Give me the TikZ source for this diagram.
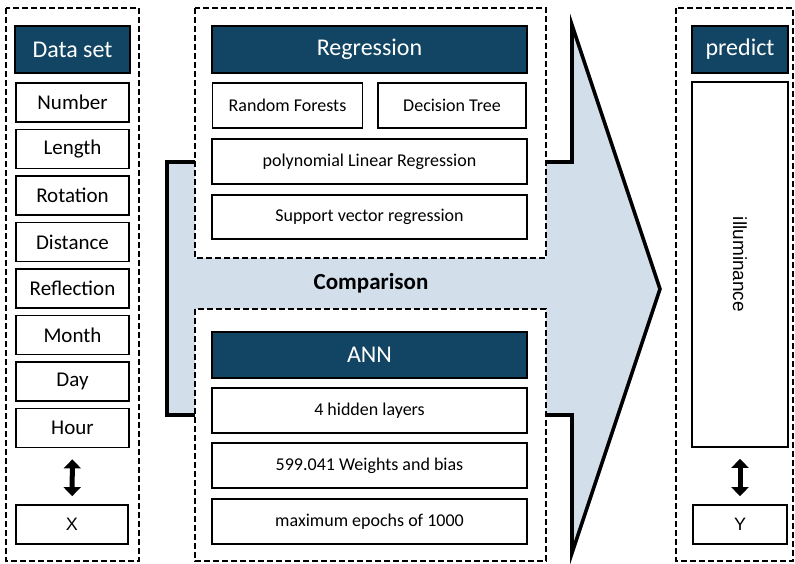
\documentclass[tikz,border=0pt]{standalone}
\usepackage{fontspec}
\setmainfont{Carlito}
\newfontfamily\arialfont{Liberation Sans}
\usetikzlibrary{arrows.meta}
\definecolor{hdrblue}{RGB}{17,69,99}
\definecolor{arrowblue}{RGB}{210,223,235}
\tikzset{
  frame/.style={draw, line width=1.5pt, dash pattern=on 6pt off 3pt, fill=white},
  hdr/.style={draw, line width=2pt, fill=hdrblue, text=white, inner sep=0pt, font=\fontsize{24}{28}\selectfont},
  cell/.style={draw, line width=1.7pt, fill=white, inner sep=0pt},
  dblarrow/.style={line width=5pt, {Triangle[length=9pt,width=17pt]}-{Triangle[length=9pt,width=17pt]}},
}

\begin{document}
\begin{tikzpicture}[x=1pt, y=-1pt]
			%%%%% START %%%%%
			\useasboundingbox (0,0) rectangle (795,563);
			
			% big comparison arrow
			\draw[line width=3.6pt, fill=arrowblue, line join=miter] (167,162) -- (572,162) -- (572,25) -- (660,289) -- (572,553) -- (572,415) -- (167,415) -- cycle;
			
			% dashed frames
			\draw[frame] (6,8) rectangle (139,561);
			\draw[frame] (195,8) rectangle (546,258);
			\draw[frame] (195,309) rectangle (546,561);
			\draw[frame] (676,8) rectangle (793,561);
			
			% data set column
			\node[hdr, minimum width=115pt, minimum height=47pt] (dataset) at (72.5,49.5) {Data set};
			\foreach \lbl [count=\i] in {Number,Length,Rotation,Distance,Reflection,Month,Day,Hour}
				\node[cell, minimum width=113pt, minimum height=39pt, font=\fontsize{21}{25}\selectfont] (d\i) at (72.5,{102.5+46.5*(\i-1)}) {\lbl};
			\node[cell, minimum width=112pt, minimum height=39pt, font=\arialfont\fontsize{18}{22}\selectfont] (xvar) at (72,524.5) {X};
			\draw[dblarrow, shorten <=11pt, shorten >=8pt] (d8) -- (xvar);
			
			% regression
			\node[hdr, minimum width=315pt, minimum height=47pt] (regr) at (369.5,49.5) {Regression};
			\node[cell, minimum width=150pt, minimum height=45pt, font=\fontsize{18}{22}\selectfont] (rf) at (287.5,105.5) {Random Forests};
			\node[cell, minimum width=148pt, minimum height=45pt, font=\fontsize{18}{22}\selectfont] (dt) at (452,105.5) {Decision Tree};
			\node[cell, minimum width=315pt, minimum height=45pt, font=\fontsize{18}{22}\selectfont] (plr) at (369.5,161.5) {polynomial Linear Regression};
			\node[cell, minimum width=315pt, minimum height=44pt, font=\fontsize{18}{22}\selectfont] (svr) at (369.5,217) {Support vector regression};
			
			\node[font=\bfseries\fontsize{23}{27}\selectfont] (comp) at (371,283) {Comparison};
			
			% ann
			\node[hdr, minimum width=315pt, minimum height=46pt] (ann) at (369.5,355) {ANN};
			\node[cell, minimum width=315pt, minimum height=45pt, font=\fontsize{18}{22}\selectfont] (hid) at (369.5,410.5) {4 hidden layers};
			\node[cell, minimum width=315pt, minimum height=45pt, font=\fontsize{18}{22}\selectfont] (wts) at (369.5,465.5) {599.041 Weights and bias};
			\node[cell, minimum width=315pt, minimum height=45pt, font=\fontsize{18}{22}\selectfont] (ep) at (369.5,521.5) {maximum epochs of 1000};
			
			% predict column
			\node[hdr, minimum width=96pt, minimum height=47pt] (pred) at (740,49.5) {predict};
			\node[cell, rotate=-90, minimum width=365pt, minimum height=96pt, font=\arialfont\fontsize{19}{23}\selectfont] (illum) at (740,264.5) {illuminance};
			\node[cell, minimum width=94pt, minimum height=39pt, font=\arialfont\fontsize{18}{22}\selectfont] (yvar) at (740,524.5) {Y};
			\draw[dblarrow, shorten <=11pt, shorten >=8pt] (illum) -- (yvar);
			
			%%%%% END %%%%%
\end{tikzpicture}
\end{document}
